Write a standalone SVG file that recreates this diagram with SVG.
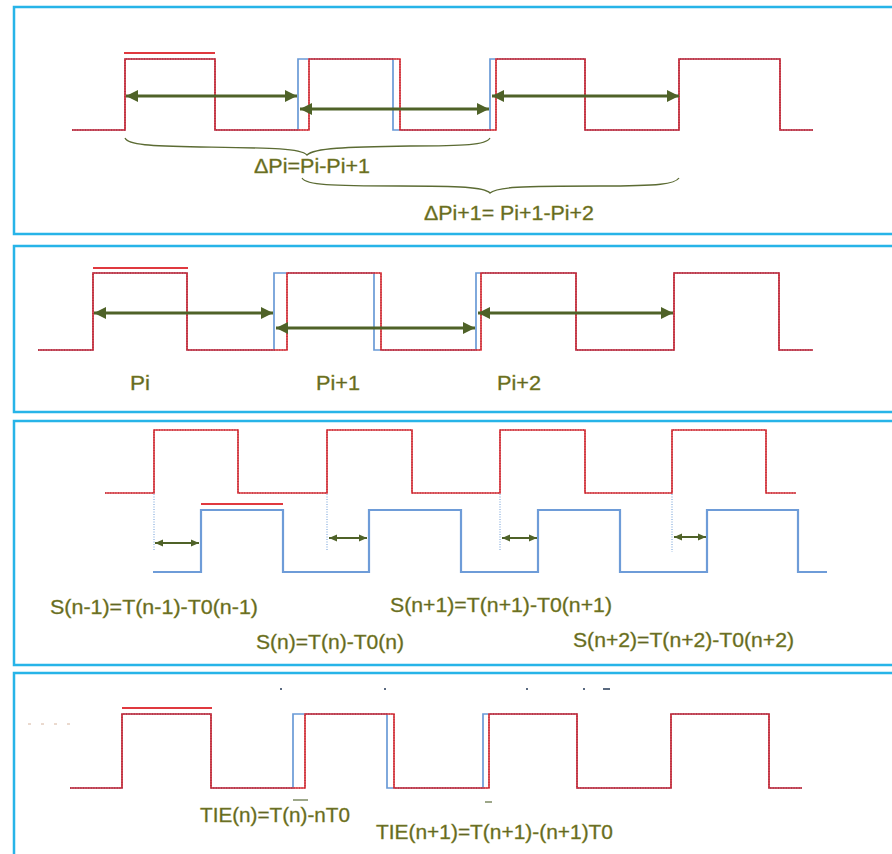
<svg xmlns="http://www.w3.org/2000/svg" width="892" height="854" viewBox="0 0 892 854">
<style>
.frame{fill:none;stroke:#27b4e8;stroke-width:2.5}
.red{fill:none;stroke:#e0393f;stroke-width:1.7;stroke-linejoin:miter}
.reddot{fill:none;stroke:#9c1c2a;stroke-width:0.9;stroke-dasharray:1 1.6}
.blue{fill:none;stroke:#6a9ad6;stroke-width:1.7}
.blue3{fill:none;stroke:#6e9cd8;stroke-width:2.2}
.over{stroke:#e0393f;stroke-width:2.2}
.arr{stroke:#4f6228;stroke-width:3;marker-start:url(#ah);marker-end:url(#ah)}
.sarr{stroke:#4f6228;stroke-width:2;marker-start:url(#sh);marker-end:url(#sh)}
.brace{fill:none;stroke:#5b6b33;stroke-width:1.3}
.vdot{stroke:#6a9ad6;stroke-width:1;stroke-dasharray:1 1.5}
.lbl{font-family:"Liberation Sans",Arial,sans-serif;font-size:19.5px;fill:#5e6624;stroke:#8a8a2a;stroke-width:0.35}
</style>
<defs>
<marker id="ah" markerUnits="userSpaceOnUse" markerWidth="12" markerHeight="12" refX="12" refY="6" orient="auto-start-reverse"><path d="M0,0 L12,6 L0,12 z" fill="#4f6228"/></marker>
<marker id="sh" markerUnits="userSpaceOnUse" markerWidth="8" markerHeight="8" refX="8" refY="4" orient="auto-start-reverse"><path d="M0,0.5 L8,4 L0,7.5 z" fill="#4f6228"/></marker>
</defs>

<g id="panel1">
<path class="frame" d="M900 7 H14 V234 H900"/>
<path class="blue" d="M72 130 H125 V59 H215 V130 H298 V59 H393 V130 H490 V59 H585 V130 H679 V59 H780 V130 H813"/>
<path class="red" d="M72 130 H125 V59 H215 V130 H309 V59 H400 V130 H496 V59 H585 V130 H679 V59 H780 V130 H813"/>
<path class="reddot" d="M72 130 H125 V59 H215 V130 H309 V59 H400 V130 H496 V59 H585 V130 H679 V59 H780 V130 H813"/>
<line class="over" x1="124" y1="53" x2="215" y2="53"/>
<path class="brace" d="M125 138 C128 145,150 146,200 147 C270 148,300 148,307 155 C314 148,345 147,410 146 C465 146,486 145,490 138"/>
<path class="brace" d="M302 178 C306 185,330 186,400 186 C460 186,484 187,490 193 C496 187,520 186,600 186 C660 186,675 184,679 178"/>
<text class="lbl" x="254" y="173" textLength="116" lengthAdjust="spacingAndGlyphs">ΔPi=Pi-Pi+1</text>
<text class="lbl" x="424" y="220" textLength="170" lengthAdjust="spacingAndGlyphs">ΔPi+1= Pi+1-Pi+2</text>
</g>

<g id="panel2">
<path class="frame" d="M900 246 H14 V412 H900"/>
<path class="blue" d="M38 350 H93 V273 H187 V350 H274 V273 H374 V350 H476 V273 H576 V350 H674 V273 H779 V350 H813"/>
<path class="red" d="M38 350 H93 V273 H187 V350 H287 V273 H381 V350 H481 V273 H576 V350 H674 V273 H779 V350 H813"/>
<path class="reddot" d="M38 350 H93 V273 H187 V350 H287 V273 H381 V350 H481 V273 H576 V350 H674 V273 H779 V350 H813"/>
<line class="over" x1="93" y1="268" x2="188" y2="268"/>
<text class="lbl" x="130" y="390" textLength="20" lengthAdjust="spacingAndGlyphs">Pi</text>
<text class="lbl" x="316" y="390" textLength="44" lengthAdjust="spacingAndGlyphs">Pi+1</text>
<text class="lbl" x="497" y="390" textLength="44" lengthAdjust="spacingAndGlyphs">Pi+2</text>
</g>

<g id="panel3">
<path class="frame" d="M900 421 H14 V665 H900"/>
<path class="red" d="M105 493 H154 V430 H238 V493 H327 V430 H412 V493 H500 V430 H585 V493 H672 V430 H766 V493 H796"/>
<path class="reddot" d="M105 493 H154 V430 H238 V493 H327 V430 H412 V493 H500 V430 H585 V493 H672 V430 H766 V493 H796"/>
<path class="blue3" d="M153 572 H201 V510 H283 V572 H369 V510 H461 V572 H538 V510 H620 V572 H707 V510 H798 V572 H827"/>
<line class="over" x1="201" y1="504" x2="283" y2="504"/>
<line class="vdot" x1="154" y1="494" x2="154" y2="550"/>
<line class="vdot" x1="327" y1="494" x2="327" y2="550"/>
<line class="vdot" x1="500" y1="494" x2="500" y2="550"/>
<line class="vdot" x1="672" y1="494" x2="672" y2="552"/>
<text class="lbl" x="50" y="614" textLength="208" lengthAdjust="spacingAndGlyphs">S(n-1)=T(n-1)-T0(n-1)</text>
<text class="lbl" x="256" y="649" textLength="148" lengthAdjust="spacingAndGlyphs">S(n)=T(n)-T0(n)</text>
<text class="lbl" x="390" y="612" textLength="222" lengthAdjust="spacingAndGlyphs">S(n+1)=T(n+1)-T0(n+1)</text>
<text class="lbl" x="573" y="647" textLength="221" lengthAdjust="spacingAndGlyphs">S(n+2)=T(n+2)-T0(n+2)</text>
</g>

<g id="panel4">
<path class="frame" d="M900 673 H14 V860"/>
<line x1="28" y1="724" x2="72" y2="724" stroke="#d6b49e" stroke-width="1" stroke-dasharray="3 10"/>
<rect x="280" y="688" width="2" height="2" fill="#5a6a80"/>
<rect x="384" y="688" width="2" height="2" fill="#5a6a80"/>
<rect x="526" y="688" width="2" height="2" fill="#5a6a80"/>
<rect x="583" y="688" width="2" height="2" fill="#5a6a80"/>
<rect x="603" y="688" width="7" height="2" fill="#5a6a80"/>
<path class="blue" d="M70 788 H122 V714 H211 V788 H293 V714 H387 V788 H483 V714 H577 V788 H671 V714 H769 V788 H802"/>
<path class="red" d="M70 788 H122 V714 H211 V788 H305 V714 H394 V788 H489 V714 H577 V788 H671 V714 H769 V788 H802"/>
<path class="reddot" d="M70 788 H122 V714 H211 V788 H305 V714 H394 V788 H489 V714 H577 V788 H671 V714 H769 V788 H802"/>
<line class="over" x1="122" y1="708" x2="212" y2="708"/>
<line x1="293" y1="800" x2="308" y2="800" stroke="#7d8a62" stroke-width="1.5"/>
<line x1="485" y1="802" x2="492" y2="802" stroke="#7d8a62" stroke-width="1.5"/>
<text class="lbl" x="200" y="822" textLength="150" lengthAdjust="spacingAndGlyphs">TIE(n)=T(n)-nT0</text>
<text class="lbl" x="376" y="839" textLength="237" lengthAdjust="spacingAndGlyphs">TIE(n+1)=T(n+1)-(n+1)T0</text>
</g>

<g id="connectors">
<line class="arr" x1="126" y1="96" x2="297" y2="96"/>
<line class="arr" x1="300" y1="109" x2="489" y2="109"/>
<line class="arr" x1="492" y1="96" x2="679" y2="96"/>
<line class="arr" x1="94" y1="313" x2="273" y2="313"/>
<line class="arr" x1="276" y1="328" x2="475" y2="328"/>
<line class="arr" x1="478" y1="313" x2="673" y2="313"/>
<line class="sarr" x1="155" y1="543" x2="199" y2="543"/>
<line class="sarr" x1="329" y1="538" x2="367" y2="538"/>
<line class="sarr" x1="502" y1="538" x2="537" y2="538"/>
<line class="sarr" x1="674" y1="537" x2="706" y2="537"/>
</g>
</svg>
